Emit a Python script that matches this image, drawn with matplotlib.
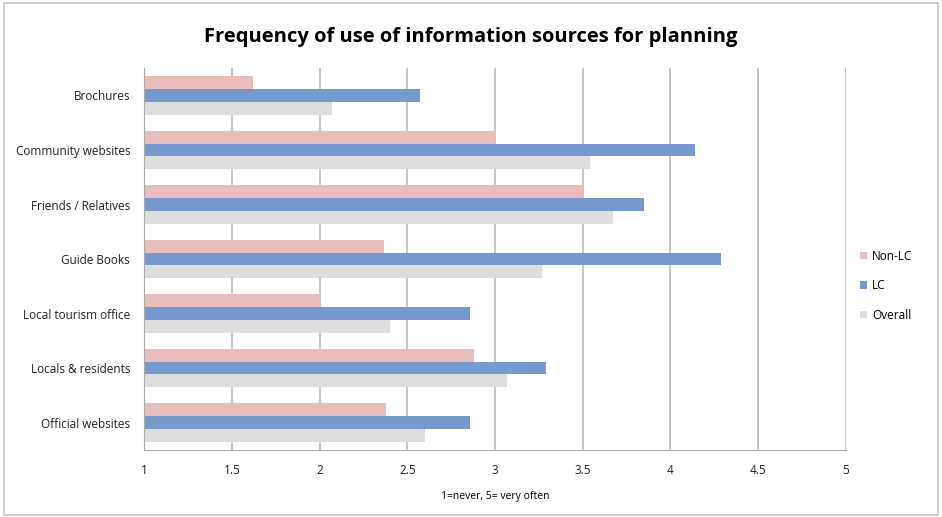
import matplotlib.pyplot as plt
import numpy as np
from matplotlib.patches import Rectangle

# data (1=never, 5=very often)
sources = ["Brochures", "Community websites", "Friends / Relatives", "Guide Books",
           "Local tourism office", "Locals & residents", "Official websites"]
non_lc = [1.62, 3.00, 3.50, 2.37, 2.00, 2.88, 2.38]
lc = [2.57, 4.14, 3.85, 4.29, 2.86, 3.29, 2.86]
overall = [2.07, 3.54, 3.67, 3.27, 2.40, 3.07, 2.60]

series_names = ["Non-LC", "LC", "Overall"]
colors = ["#E8BDBC", "#7899CD", "#DDDDDD"]

plt.rcParams['font.family'] = ['Open Sans', 'DejaVu Sans']

fig = plt.figure(figsize=(9.42, 5.17), dpi=100)
ax = fig.add_axes([0.153, 0.13, 0.745, 0.738])

# light frame around the whole chart
fig.patches.append(Rectangle((0.004, 0.004), 0.992, 0.99, transform=fig.transFigure,
                             fill=False, edgecolor="#C8C8C8", linewidth=1.2))

y = np.arange(len(sources))
h = 0.235
for i, (vals, name, c) in enumerate(zip([non_lc, lc, overall], series_names, colors)):
    ax.barh(y + (i - 1) * h, np.array(vals) - 1, left=1, height=h, color=c,
            label=name, edgecolor="none")

ax.set_xlim(1, 5)
ax.set_ylim(len(sources) - 0.5, -0.5)
ax.set_xticks(np.arange(1, 5.01, 0.5))
ax.set_xticklabels(["1", "1.5", "2", "2.5", "3", "3.5", "4", "4.5", "5"])
ax.set_yticks(y)
ax.set_yticklabels(sources)
ax.tick_params(axis="both", length=0, labelsize=8.5, pad=10, colors="#222222")
ax.tick_params(axis="x", pad=10)

ax.grid(axis="x", color="#BBBBBB", linewidth=1.2)
ax.set_axisbelow(True)
for s in ["top", "right"]:
    ax.spines[s].set_visible(False)
ax.spines["left"].set_color("#AAAAAA")
ax.spines["bottom"].set_color("#AAAAAA")

ax.set_xlabel("1=never, 5= very often", fontsize=7.5, labelpad=10)
fig.text(0.5, 0.928, "Frequency of use of information sources for planning",
         ha="center", va="center", fontsize=14.5, fontweight="bold")

leg = ax.legend(loc="center left", bbox_to_anchor=(1.005, 0.43), frameon=False,
                fontsize=8.5, handlelength=0.6, handleheight=0.6,
                handletextpad=0.4, labelspacing=1.4)

fig.savefig("out.png", dpi=100)
